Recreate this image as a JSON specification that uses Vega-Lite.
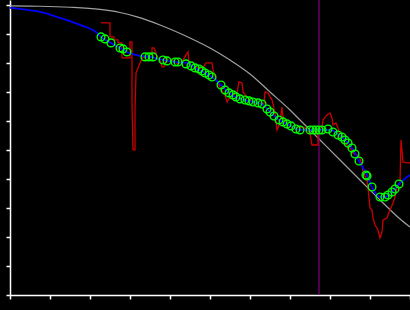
{
  "$schema": "https://vega.github.io/schema/vega-lite/v6.json",
  "width": 400,
  "height": 295,
  "autosize": {"type": "none"},
  "padding": {"left": 10, "top": 0, "right": 0, "bottom": 15},
  "background": "black",
  "config": {
    "view": {"stroke": null},
    "axis": {
      "grid": false,
      "labels": false,
      "title": null,
      "domainColor": "white",
      "domainWidth": 1.5,
      "tickColor": "white",
      "tickWidth": 1.5,
      "tickSize": 4,
      "values": [1, 2, 3, 4, 5, 6, 7, 8, 9]
    }
  },
  "datasets": {
    "model": [
      {"x": 0, "y": 9.966}, {"x": 0.75, "y": 9.955}, {"x": 1.5, "y": 9.92}, {"x": 2.25, "y": 9.845},
      {"x": 2.75, "y": 9.74}, {"x": 3.175, "y": 9.586}, {"x": 3.75, "y": 9.31}, {"x": 4.5, "y": 8.862},
      {"x": 5, "y": 8.517}, {"x": 5.5, "y": 8.103}, {"x": 6, "y": 7.621}, {"x": 6.5, "y": 7.0},
      {"x": 7, "y": 6.379}, {"x": 7.25, "y": 6.034}, {"x": 7.5, "y": 5.69}, {"x": 7.75, "y": 5.345},
      {"x": 8.25, "y": 4.655}, {"x": 8.75, "y": 3.966}, {"x": 9.25, "y": 3.276}, {"x": 9.75, "y": 2.621},
      {"x": 10, "y": 2.345}
    ],
    "fit": [
      {"x": 0, "y": 9.897}, {"x": 0.25, "y": 9.862}, {"x": 0.75, "y": 9.759}, {"x": 1.25, "y": 9.552},
      {"x": 1.75, "y": 9.31}, {"x": 2.175, "y": 9.034}, {"x": 2.275, "y": 8.897}, {"x": 2.525, "y": 8.69},
      {"x": 2.75, "y": 8.517}, {"x": 2.925, "y": 8.379}, {"x": 3.25, "y": 8.241}, {"x": 3.5, "y": 8.207},
      {"x": 3.825, "y": 8.103}, {"x": 4.125, "y": 8.034}, {"x": 4.425, "y": 8.0}, {"x": 4.625, "y": 7.828},
      {"x": 4.875, "y": 7.655}, {"x": 5.05, "y": 7.517}, {"x": 5.275, "y": 7.241}, {"x": 5.475, "y": 6.966},
      {"x": 5.75, "y": 6.759}, {"x": 6.075, "y": 6.655}, {"x": 6.3, "y": 6.586}, {"x": 6.5, "y": 6.31},
      {"x": 6.725, "y": 6.034}, {"x": 7.025, "y": 5.828}, {"x": 7.25, "y": 5.69}, {"x": 7.75, "y": 5.69},
      {"x": 8.0, "y": 5.69}, {"x": 8.2, "y": 5.552}, {"x": 8.375, "y": 5.345}, {"x": 8.55, "y": 5.069},
      {"x": 8.725, "y": 4.621}, {"x": 8.925, "y": 4.138}, {"x": 9.05, "y": 3.724}, {"x": 9.25, "y": 3.379},
      {"x": 9.375, "y": 3.379}, {"x": 9.55, "y": 3.552}, {"x": 9.725, "y": 3.828}, {"x": 10, "y": 4.138}
    ],
    "raw": [
      {"i": 1, "x": 2.275, "y": 9.379}, {"i": 2, "x": 2.5, "y": 9.379}, {"i": 3, "x": 2.5, "y": 8.897},
      {"i": 4, "x": 2.6, "y": 8.897}, {"i": 5, "x": 2.6, "y": 8.793}, {"i": 6, "x": 2.7, "y": 8.793},
      {"i": 7, "x": 2.7, "y": 8.69}, {"i": 8, "x": 2.8, "y": 8.69}, {"i": 9, "x": 2.8, "y": 8.172},
      {"i": 10, "x": 3.0, "y": 8.172}, {"i": 11, "x": 3.0, "y": 8.724}, {"i": 12, "x": 3.05, "y": 8.724},
      {"i": 13, "x": 3.05, "y": 6.655}, {"i": 14, "x": 3.075, "y": 5.0}, {"i": 15, "x": 3.125, "y": 5.0},
      {"i": 16, "x": 3.125, "y": 6.379}, {"i": 17, "x": 3.15, "y": 7.655}, {"i": 18, "x": 3.2, "y": 7.828},
      {"i": 19, "x": 3.25, "y": 8.0}, {"i": 20, "x": 3.3, "y": 8.172}, {"i": 21, "x": 3.4, "y": 8.207},
      {"i": 22, "x": 3.55, "y": 8.207}, {"i": 23, "x": 3.55, "y": 8.517}, {"i": 24, "x": 3.6, "y": 8.517},
      {"i": 25, "x": 3.65, "y": 8.345}, {"i": 26, "x": 3.7, "y": 8.172}, {"i": 27, "x": 3.75, "y": 8.103},
      {"i": 28, "x": 3.8, "y": 7.862}, {"i": 29, "x": 3.85, "y": 7.862}, {"i": 30, "x": 3.9, "y": 8.172},
      {"i": 31, "x": 4.0, "y": 8.034}, {"i": 32, "x": 4.075, "y": 8.103}, {"i": 33, "x": 4.2, "y": 7.966},
      {"i": 34, "x": 4.325, "y": 8.103}, {"i": 35, "x": 4.4, "y": 8.276}, {"i": 36, "x": 4.45, "y": 8.379},
      {"i": 37, "x": 4.475, "y": 8.0}, {"i": 38, "x": 4.6, "y": 7.828}, {"i": 39, "x": 4.825, "y": 7.828},
      {"i": 40, "x": 4.9, "y": 8.0}, {"i": 41, "x": 5.05, "y": 8.0}, {"i": 42, "x": 5.075, "y": 7.759},
      {"i": 43, "x": 5.15, "y": 7.414}, {"i": 44, "x": 5.2, "y": 7.31}, {"i": 45, "x": 5.25, "y": 7.172},
      {"i": 46, "x": 5.325, "y": 6.966}, {"i": 47, "x": 5.375, "y": 6.897}, {"i": 48, "x": 5.425, "y": 6.655},
      {"i": 49, "x": 5.5, "y": 6.828}, {"i": 50, "x": 5.575, "y": 6.897}, {"i": 51, "x": 5.675, "y": 6.966},
      {"i": 52, "x": 5.725, "y": 7.345}, {"i": 53, "x": 5.8, "y": 7.31}, {"i": 54, "x": 5.825, "y": 7.0},
      {"i": 55, "x": 5.875, "y": 6.897}, {"i": 56, "x": 6.0, "y": 6.724}, {"i": 57, "x": 6.125, "y": 6.621},
      {"i": 58, "x": 6.25, "y": 6.586}, {"i": 59, "x": 6.35, "y": 6.586}, {"i": 60, "x": 6.375, "y": 7.0},
      {"i": 61, "x": 6.45, "y": 6.966}, {"i": 62, "x": 6.55, "y": 6.724}, {"i": 63, "x": 6.625, "y": 6.276},
      {"i": 64, "x": 6.675, "y": 5.69}, {"i": 65, "x": 6.75, "y": 5.931}, {"i": 66, "x": 6.8, "y": 6.483},
      {"i": 67, "x": 6.825, "y": 6.138}, {"i": 68, "x": 6.925, "y": 5.862}, {"i": 69, "x": 7.125, "y": 5.759},
      {"i": 70, "x": 7.25, "y": 5.793}, {"i": 71, "x": 7.375, "y": 5.759}, {"i": 72, "x": 7.5, "y": 5.586},
      {"i": 73, "x": 7.55, "y": 5.172}, {"i": 74, "x": 7.7, "y": 5.172}, {"i": 75, "x": 7.7, "y": 5.69},
      {"i": 76, "x": 7.8, "y": 5.793}, {"i": 77, "x": 7.825, "y": 6.034}, {"i": 78, "x": 7.925, "y": 6.207},
      {"i": 79, "x": 8.0, "y": 6.276}, {"i": 80, "x": 8.05, "y": 6.103}, {"i": 81, "x": 8.075, "y": 5.862},
      {"i": 82, "x": 8.15, "y": 5.931}, {"i": 83, "x": 8.2, "y": 5.759}, {"i": 84, "x": 8.25, "y": 5.448},
      {"i": 85, "x": 8.3, "y": 5.517}, {"i": 86, "x": 8.375, "y": 5.241}, {"i": 87, "x": 8.5, "y": 5.069},
      {"i": 88, "x": 8.575, "y": 4.897}, {"i": 89, "x": 8.675, "y": 4.828}, {"i": 90, "x": 8.75, "y": 4.724},
      {"i": 91, "x": 8.8, "y": 4.483}, {"i": 92, "x": 8.825, "y": 4.241}, {"i": 93, "x": 8.925, "y": 3.966},
      {"i": 94, "x": 8.95, "y": 3.69}, {"i": 95, "x": 9.0, "y": 3.0}, {"i": 96, "x": 9.05, "y": 2.931},
      {"i": 97, "x": 9.075, "y": 2.655}, {"i": 98, "x": 9.125, "y": 2.414}, {"i": 99, "x": 9.2, "y": 2.241},
      {"i": 100, "x": 9.25, "y": 1.966}, {"i": 101, "x": 9.3, "y": 2.172}, {"i": 102, "x": 9.325, "y": 2.586},
      {"i": 103, "x": 9.425, "y": 2.655}, {"i": 104, "x": 9.45, "y": 2.759}, {"i": 105, "x": 9.5, "y": 2.931},
      {"i": 106, "x": 9.575, "y": 3.172}, {"i": 107, "x": 9.625, "y": 3.379}, {"i": 108, "x": 9.675, "y": 3.724},
      {"i": 109, "x": 9.75, "y": 3.862}, {"i": 110, "x": 9.775, "y": 5.345}, {"i": 111, "x": 9.825, "y": 4.586},
      {"i": 112, "x": 9.925, "y": 4.552}, {"i": 113, "x": 10.0, "y": 4.552}
    ],
    "obs": [
      {"x": 2.275, "y": 8.897}, {"x": 2.375, "y": 8.828}, {"x": 2.525, "y": 8.69}, {"x": 2.75, "y": 8.517},
      {"x": 2.825, "y": 8.483}, {"x": 2.925, "y": 8.379}, {"x": 3.375, "y": 8.207}, {"x": 3.475, "y": 8.207},
      {"x": 3.575, "y": 8.207}, {"x": 3.825, "y": 8.103}, {"x": 3.925, "y": 8.069}, {"x": 4.125, "y": 8.034},
      {"x": 4.2, "y": 8.034}, {"x": 4.4, "y": 7.966}, {"x": 4.525, "y": 7.897}, {"x": 4.625, "y": 7.828},
      {"x": 4.725, "y": 7.793}, {"x": 4.8, "y": 7.724}, {"x": 4.875, "y": 7.655}, {"x": 4.975, "y": 7.586},
      {"x": 5.05, "y": 7.517}, {"x": 5.275, "y": 7.241}, {"x": 5.375, "y": 7.069}, {"x": 5.475, "y": 6.966},
      {"x": 5.575, "y": 6.897}, {"x": 5.65, "y": 6.828}, {"x": 5.75, "y": 6.759}, {"x": 5.875, "y": 6.724},
      {"x": 5.975, "y": 6.69}, {"x": 6.075, "y": 6.655}, {"x": 6.2, "y": 6.621}, {"x": 6.3, "y": 6.586},
      {"x": 6.425, "y": 6.414}, {"x": 6.5, "y": 6.31}, {"x": 6.6, "y": 6.172}, {"x": 6.725, "y": 6.034},
      {"x": 6.825, "y": 5.966}, {"x": 6.925, "y": 5.897}, {"x": 7.025, "y": 5.828}, {"x": 7.15, "y": 5.724},
      {"x": 7.25, "y": 5.69}, {"x": 7.5, "y": 5.69}, {"x": 7.575, "y": 5.69}, {"x": 7.65, "y": 5.69},
      {"x": 7.725, "y": 5.69}, {"x": 7.8, "y": 5.69}, {"x": 7.95, "y": 5.724}, {"x": 8.075, "y": 5.621},
      {"x": 8.2, "y": 5.517}, {"x": 8.3, "y": 5.448}, {"x": 8.375, "y": 5.345}, {"x": 8.45, "y": 5.241},
      {"x": 8.55, "y": 5.069}, {"x": 8.625, "y": 4.862}, {"x": 8.725, "y": 4.621}, {"x": 8.9, "y": 4.138},
      {"x": 8.925, "y": 4.103}, {"x": 9.05, "y": 3.724}, {"x": 9.25, "y": 3.379}, {"x": 9.375, "y": 3.379},
      {"x": 9.45, "y": 3.448}, {"x": 9.55, "y": 3.552}, {"x": 9.625, "y": 3.655}, {"x": 9.725, "y": 3.828}
    ],
    "marker": [{"x": 7.725}]
  },
  "layer": [
    {
      "data": {"name": "model"},
      "mark": {"type": "line", "color": "#a0a0a0", "strokeWidth": 1.2, "interpolate": "monotone", "clip": true},
      "encoding": {
        "x": {"field": "x", "type": "quantitative", "scale": {"domain": [0, 10], "nice": false, "zero": false}, "axis": {"orient": "bottom"}},
        "y": {"field": "y", "type": "quantitative", "scale": {"domain": [0, 10.17], "nice": false, "zero": false}, "axis": {"orient": "left"}}
      }
    },
    {
      "data": {"name": "marker"},
      "mark": {"type": "rule", "color": "#800080", "strokeWidth": 1.2},
      "encoding": {"x": {"field": "x", "type": "quantitative"}}
    },
    {
      "data": {"name": "raw"},
      "mark": {"type": "line", "color": "#cc0000", "strokeWidth": 1.3, "clip": true},
      "encoding": {
        "x": {"field": "x", "type": "quantitative"},
        "y": {"field": "y", "type": "quantitative"},
        "order": {"field": "i", "type": "quantitative"}
      }
    },
    {
      "data": {"name": "fit"},
      "mark": {"type": "line", "color": "#0000ff", "strokeWidth": 1.8, "interpolate": "monotone", "clip": true},
      "encoding": {
        "x": {"field": "x", "type": "quantitative"},
        "y": {"field": "y", "type": "quantitative"}
      }
    },
    {
      "data": {"name": "obs"},
      "mark": {"type": "point", "shape": "circle", "filled": false, "color": "#00ff00", "size": 60, "strokeWidth": 1.4, "opacity": 1},
      "encoding": {
        "x": {"field": "x", "type": "quantitative"},
        "y": {"field": "y", "type": "quantitative"}
      }
    }
  ]
}
